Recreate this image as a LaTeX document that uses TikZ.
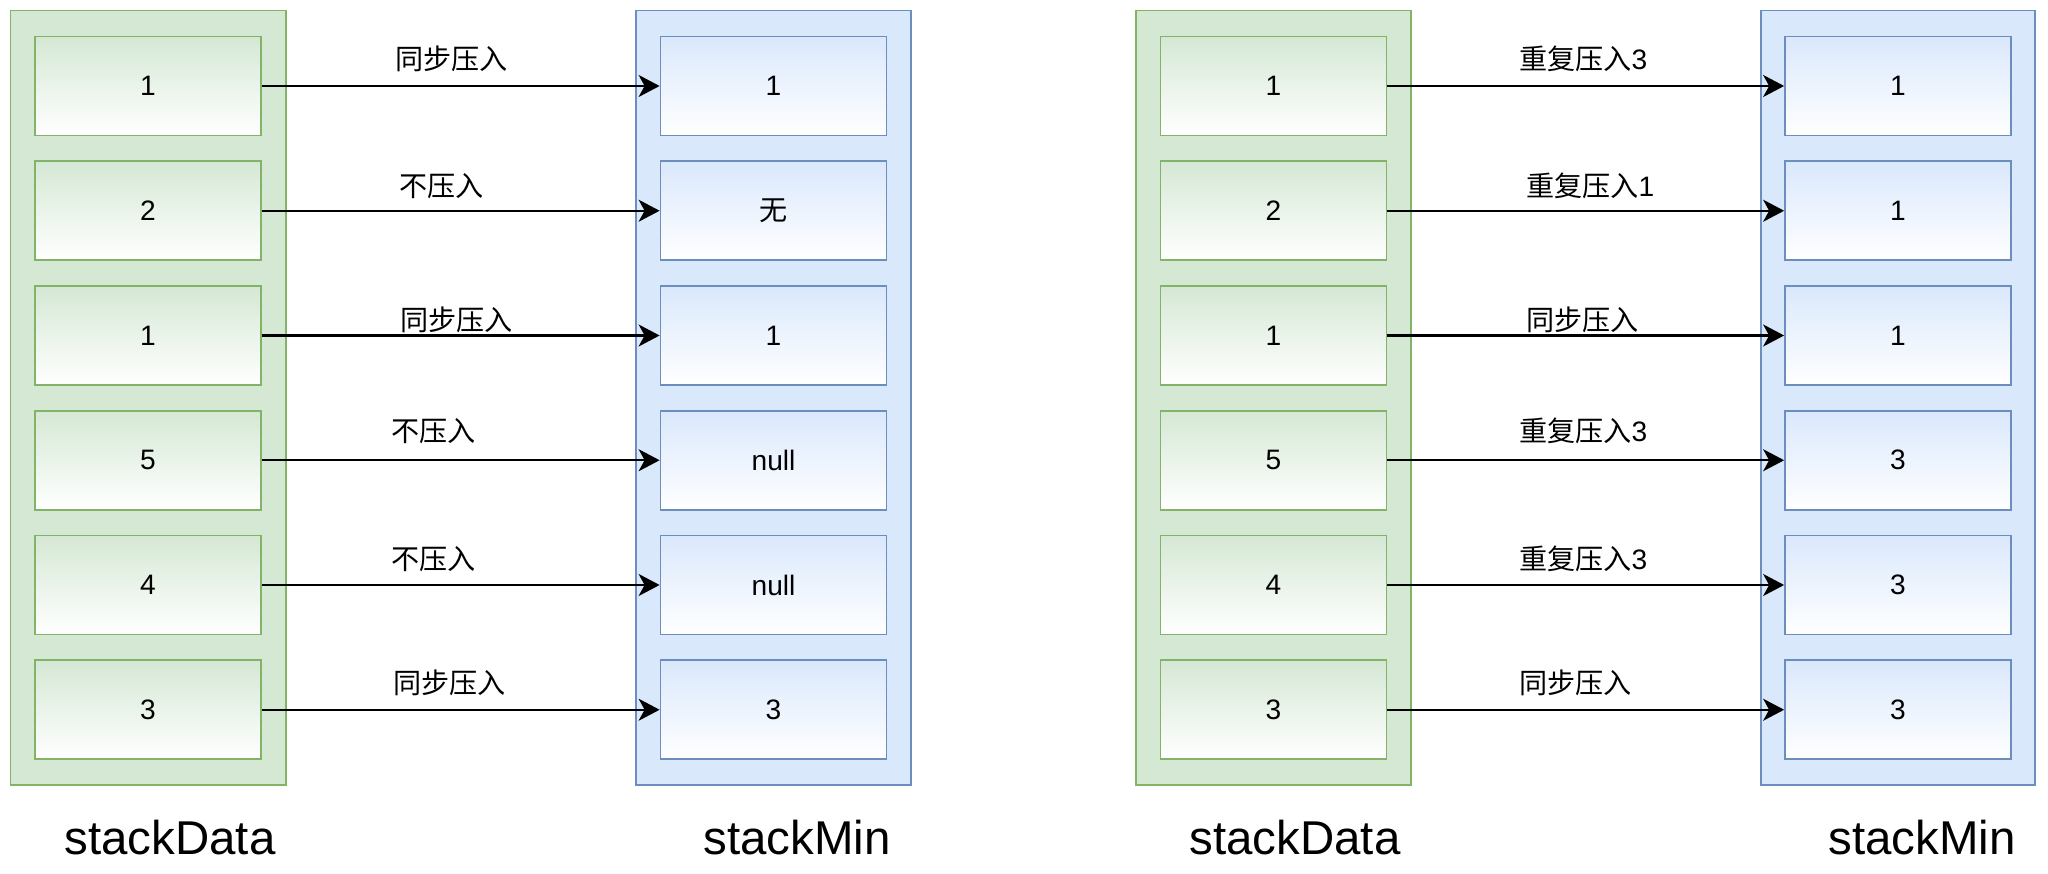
\documentclass[tikz,border=0pt]{standalone}
\usepackage{fontspec}
\setmainfont{Liberation Sans}
\newfontfamily\cjk{Noto Sans CJK SC}
\usetikzlibrary{arrows.meta}
\definecolor{datafill}{HTML}{D5E8D4}
\definecolor{dataline}{HTML}{82B366}
\definecolor{minfill}{HTML}{DAE8FC}
\definecolor{minline}{HTML}{6C8EBF}

\begin{document}
\begin{tikzpicture}[
		cell/.style={line width=1pt, minimum width=4.52cm, minimum height=1.98cm, inner sep=0pt, font=\fontsize{16}{16}\selectfont},
		datacell/.style={cell, draw=dataline, top color=datafill, bottom color=white},
		mincell/.style={cell, draw=minline, top color=minfill, bottom color=white},
		datastack/.style={line width=1pt, draw=dataline, fill=datafill},
		minstack/.style={line width=1pt, draw=minline, fill=minfill},
		push/.style={line width=1.2pt, -{Stealth[length=0.42cm, width=0.44cm, inset=0.12cm]}},
		lab/.style={font=\fontsize{16}{16}\selectfont\cjk},
		title/.style={font=\fontsize{27}{27}\selectfont}
	]
			\useasboundingbox (0,0) rectangle (40.96,17.46);
			\fill[white] (0,0) rectangle (40.96,17.46);
			\draw[datastack] (0.21,1.76) rectangle (5.72,17.25);
			\draw[minstack] (12.72,1.76) rectangle (18.22,17.25);
			\draw[datastack] (22.72,1.76) rectangle (28.22,17.25);
			\draw[minstack] (35.22,1.76) rectangle (40.70,17.25);

			\node[datacell] (d1) at (2.96,15.74) {1};
			\node[datacell] (d2) at (2.96,13.245) {2};
			\node[datacell] (d3) at (2.96,10.75) {1};
			\node[datacell] (d4) at (2.96,8.255) {5};
			\node[datacell] (d5) at (2.96,5.76) {4};
			\node[datacell] (d6) at (2.96,3.265) {3};
			\node[mincell] (m1) at (15.47,15.74) {1};
			\node[mincell] (m2) at (15.47,13.245) {\cjk 无};
			\node[mincell] (m3) at (15.47,10.75) {1};
			\node[mincell] (m4) at (15.47,8.255) {null};
			\node[mincell] (m5) at (15.47,5.76) {null};
			\node[mincell] (m6) at (15.47,3.265) {3};
			\draw[push] (d1) -- node[lab, xshift=-0.18cm, yshift=0.54cm] {同步压入} (m1);
			\draw[push] (d2) -- node[lab, xshift=-0.38cm, yshift=0.5cm] {不压入} (m2);
			\draw[push] (d3) -- node[lab, xshift=-0.08cm, yshift=0.32cm] {同步压入} (m3);
			\draw[push] (d4) -- node[lab, xshift=-0.54cm, yshift=0.58cm] {不压入} (m4);
			\draw[push] (d5) -- node[lab, xshift=-0.54cm, yshift=0.52cm] {不压入} (m5);
			\draw[push] (d6) -- node[lab, xshift=-0.22cm, yshift=0.54cm] {同步压入} (m6);
			\node[title] (datatitle) at (3.4,0.7) {stackData};
			\node[title] (mintitle) at (15.94,0.7) {stackMin};

			\node[datacell] (rd1) at (25.47,15.74) {1};
			\node[datacell] (rd2) at (25.47,13.245) {2};
			\node[datacell] (rd3) at (25.47,10.75) {1};
			\node[datacell] (rd4) at (25.47,8.255) {5};
			\node[datacell] (rd5) at (25.47,5.76) {4};
			\node[datacell] (rd6) at (25.47,3.265) {3};
			\node[mincell] (rm1) at (37.96,15.74) {1};
			\node[mincell] (rm2) at (37.96,13.245) {1};
			\node[mincell] (rm3) at (37.96,10.75) {1};
			\node[mincell] (rm4) at (37.96,8.255) {3};
			\node[mincell] (rm5) at (37.96,5.76) {3};
			\node[mincell] (rm6) at (37.96,3.265) {3};
			\draw[push] (rd1) -- node[lab, xshift=-0.05cm, yshift=0.54cm] {重复压入\rmfamily 3} (rm1);
			\draw[push] (rd2) -- node[lab, xshift=0.09cm, yshift=0.5cm] {重复压入\rmfamily 1} (rm2);
			\draw[push] (rd3) -- node[lab, xshift=-0.07cm, yshift=0.32cm] {同步压入} (rm3);
			\draw[push] (rd4) -- node[lab, xshift=-0.05cm, yshift=0.58cm] {重复压入\rmfamily 3} (rm4);
			\draw[push] (rd5) -- node[lab, xshift=-0.05cm, yshift=0.52cm] {重复压入\rmfamily 3} (rm5);
			\draw[push] (rd6) -- node[lab, xshift=-0.21cm, yshift=0.54cm] {同步压入} (rm6);
			\node[title] (rdatatitle) at (25.9,0.7) {stackData};
			\node[title] (rmintitle) at (38.44,0.7) {stackMin};
\end{tikzpicture}
\end{document}
